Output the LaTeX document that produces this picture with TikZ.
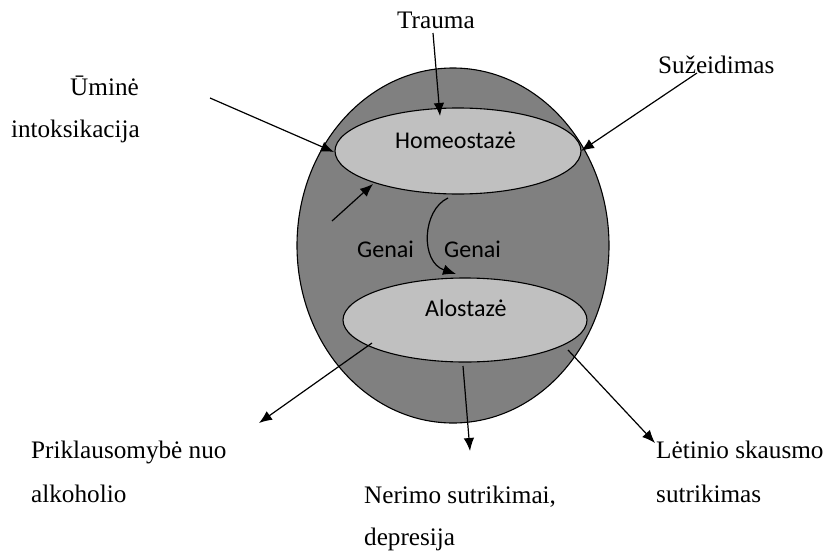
\documentclass[tikz,border=0pt]{standalone}
\usepackage{fontspec}
\setmainfont{Liberation Serif}
\newfontfamily\calibrifont{Carlito}
\usetikzlibrary{shapes.geometric,arrows.meta}
\definecolor{outergray}{RGB}{128,128,128}
\definecolor{innergray}{RGB}{192,192,192}
\begin{document}
\begin{tikzpicture}[x=1pt,y=-1pt,
  blob/.style={ellipse,draw=black,line width=1.1pt,inner sep=0pt},
  serif/.style={font=\fontsize{25.2}{30}\selectfont,inner sep=0pt,anchor=base west},
  sans/.style={font=\calibrifont\fontsize{24}{29}\selectfont,inner sep=0pt,anchor=base west},
  arr/.style={line width=1.2pt,-{Latex[length=13pt,width=10.5pt]}}]
\useasboundingbox (0,0) rectangle (826,551);
% shapes
\node[blob,fill=outergray,minimum width=312pt,minimum height=355pt] (outer) at (453,245.5) {};
\node[blob,fill=innergray,minimum width=246pt,minimum height=86pt] (homeo) at (458,151) {};
\node[blob,fill=innergray,minimum width=244pt,minimum height=84pt] (alo) at (465,320) {};
% inner labels
\node[sans] (homeotxt) at (395,148) {Homeostazė};
\node[sans] (alotxt) at (425,316) {Alostazė};
\node[sans] (genaiL) at (357,257) {Genai};
\node[sans] (genaiR) at (444,257) {Genai};
% outer labels
\node[serif] (trauma) at (397,29) {Trauma};
\node[serif,anchor=base east] (umine1) at (139,95) {Ūminė};
\node[serif,anchor=base east] (umine2) at (140,137) {intoksikacija};
\node[serif] (suz) at (658,73) {Sužeidimas};
\node[serif] (prik1) at (31,458) {Priklausomybė nuo};
\node[serif] (prik2) at (31,502) {alkoholio};
\node[serif] (ner1) at (364,503) {Nerimo sutrikimai,};
\node[serif] (ner2) at (364,545) {depresija};
\node[serif] (let1) at (656,458) {Lėtinio skausmo};
\node[serif] (let2) at (656,502) {sutrikimas};
% connector ends
\coordinate (tA) at (433,33);   \coordinate (tB) at (440,116);
\coordinate (uA) at (210,98);   \coordinate (uB) at (334,152);
\coordinate (sA) at (697,73);   \coordinate (sB) at (581,151);
\coordinate (gA) at (332,221);  \coordinate (gB) at (373,184);
\coordinate (cA) at (448,198);  \coordinate (cB) at (456,274);
\coordinate (pA) at (372,343);  \coordinate (pB) at (259,423);
\coordinate (nA) at (463,366);  \coordinate (nB) at (470,451);
\coordinate (lA) at (568,350);  \coordinate (lB) at (655,443);
% connectors
\draw[arr] (tA) -- (tB);
\draw[arr] (uA) -- (uB);
\draw[arr] (sA) -- (sB);
\draw[arr] (gA) -- (gB);
\draw[arr] (cA) .. controls (422,210) and (420,262) .. (cB);
\draw[arr] (pA) -- (pB);
\draw[arr] (nA) -- (nB);
\draw[arr] (lA) -- (lB);
\end{tikzpicture}
\end{document}
